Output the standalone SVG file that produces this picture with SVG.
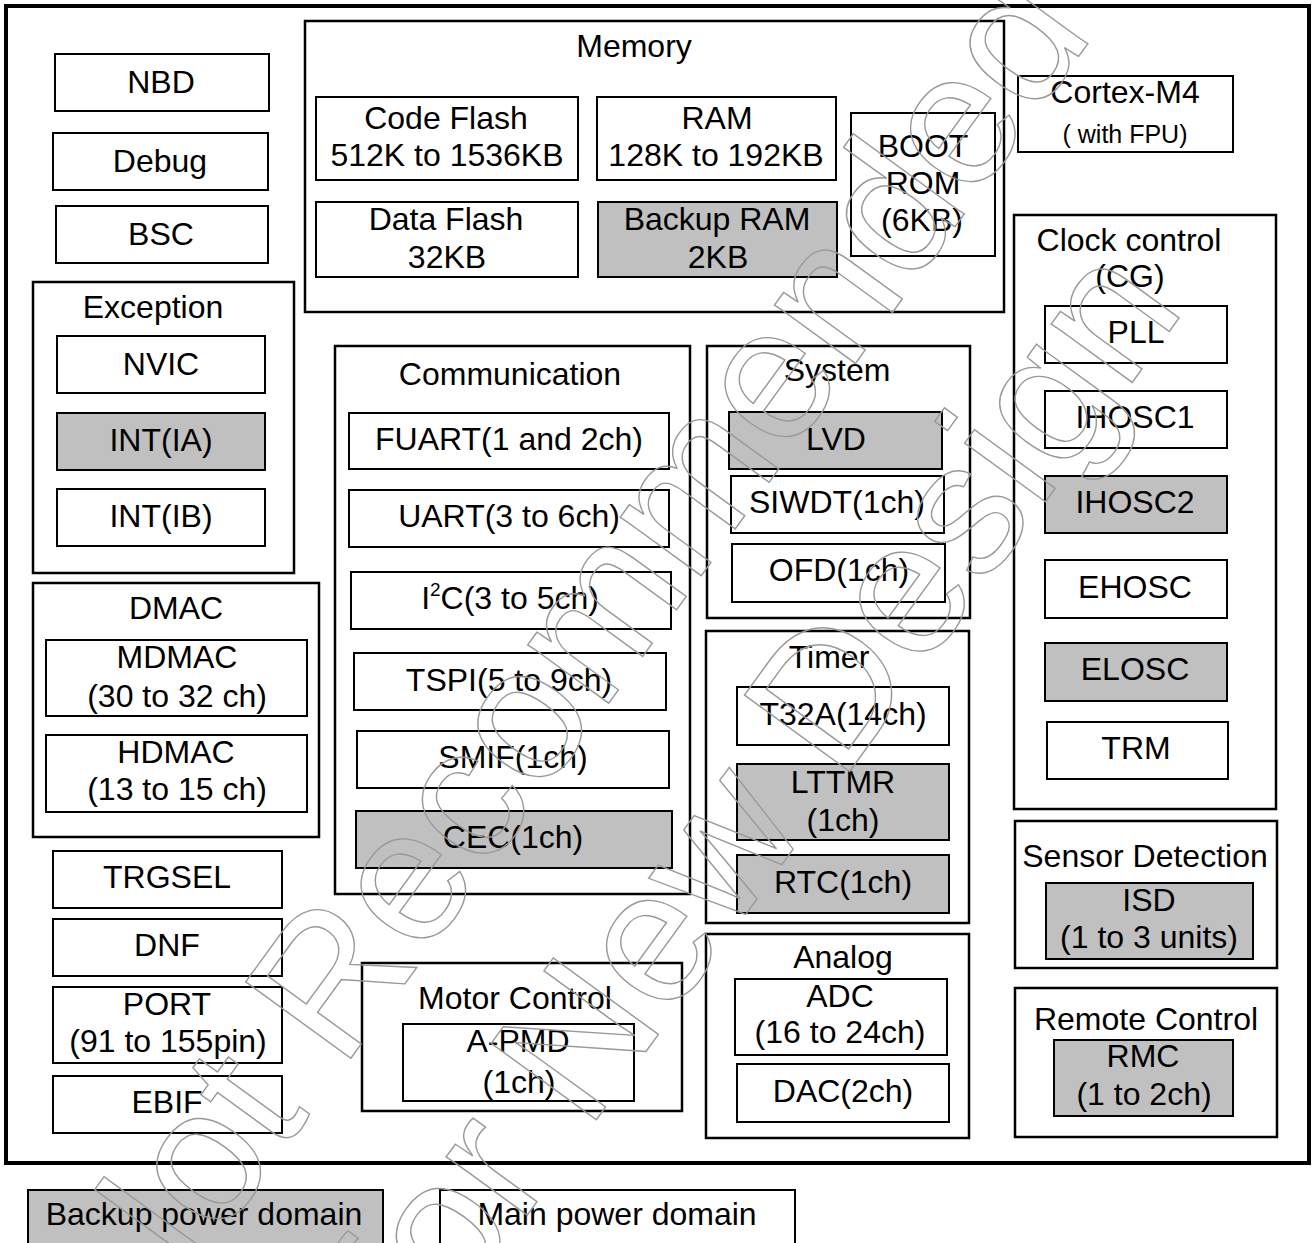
<svg xmlns="http://www.w3.org/2000/svg" width="1315" height="1243" viewBox="0 0 1315 1243">
<style>
.n{fill:#fff;stroke:#000;stroke-width:2}
.s{fill:#c0c0c0;stroke:#000;stroke-width:2}
.grp{fill:none;stroke:#000;stroke-width:2.5}
.outer{fill:none;stroke:#000;stroke-width:4}
text{font-family:"Liberation Sans",Arial,sans-serif;font-size:32px;text-anchor:middle;fill:#000}
.sm{font-size:25px}
.wm{font-family:"Liberation Sans",Arial,sans-serif;font-size:189px;text-anchor:middle;fill:none;stroke:#999;stroke-width:1.4}
</style>
<rect width="1315" height="1243" fill="#fff"/>
<rect class="outer" x="6" y="6" width="1303" height="1157"/>

<g id="NBD"><rect class="n" x="55" y="54" width="214" height="57"/><text x="161" y="93">NBD</text></g>
<g id="Debug"><rect class="n" x="53" y="133" width="215" height="57"/><text x="160" y="172">Debug</text></g>
<g id="BSC"><rect class="n" x="56" y="206" width="212" height="57"/><text x="161" y="245">BSC</text></g>

<g id="Exception"><rect class="grp" x="33" y="282" width="261" height="291"/><text x="153" y="318">Exception</text>
<g id="NVIC"><rect class="n" x="57" y="336" width="208" height="57"/><text x="161" y="375">NVIC</text></g>
<g id="INT_IA"><rect class="s" x="57" y="413" width="208" height="57"/><text x="161" y="451">INT(IA)</text></g>
<g id="INT_IB"><rect class="n" x="57" y="489" width="208" height="57"/><text x="161" y="527">INT(IB)</text></g>
</g>

<g id="DMAC"><rect class="grp" x="33" y="583" width="286" height="254"/><text x="176" y="619">DMAC</text>
<g id="MDMAC"><rect class="n" x="46" y="640" width="261" height="76"/><text x="177" y="668">MDMAC</text><text x="177" y="707">(30 to 32 ch)</text></g>
<g id="HDMAC"><rect class="n" x="46" y="735" width="261" height="77"/><text x="176" y="763">HDMAC</text><text x="177" y="800">(13 to 15 ch)</text></g>
</g>

<g id="TRGSEL"><rect class="n" x="53" y="851" width="229" height="57"/><text x="167" y="888">TRGSEL</text></g>
<g id="DNF"><rect class="n" x="53" y="919" width="229" height="57"/><text x="167" y="956">DNF</text></g>
<g id="PORT"><rect class="n" x="53" y="987" width="229" height="76"/><text x="167" y="1015">PORT</text><text x="168" y="1052">(91 to 155pin)</text></g>
<g id="EBIF"><rect class="n" x="53" y="1076" width="229" height="57"/><text x="167" y="1113">EBIF</text></g>

<g id="Memory"><rect class="grp" x="305" y="21" width="699" height="291"/><text x="634" y="57">Memory</text>
<g id="CodeFlash"><rect class="n" x="316" y="97" width="262" height="83"/><text x="446" y="129">Code Flash</text><text x="447" y="166">512K to 1536KB</text></g>
<g id="RAM"><rect class="n" x="597" y="97" width="239" height="83"/><text x="717" y="129">RAM</text><text x="716" y="166">128K to 192KB</text></g>
<g id="DataFlash"><rect class="n" x="316" y="202" width="262" height="75"/><text x="446" y="230">Data Flash</text><text x="447" y="268">32KB</text></g>
<g id="BackupRAM"><rect class="s" x="598" y="202" width="239" height="75"/><text x="717" y="230">Backup RAM</text><text x="718" y="268">2KB</text></g>
<g id="BootROM"><rect class="n" x="851" y="113" width="144" height="143"/><text x="923" y="157">BOOT</text><text x="923" y="194">ROM</text><text x="922" y="231">(6KB)</text></g>
</g>

<g id="Cortex"><rect class="n" x="1018" y="76" width="215" height="76"/><text x="1125" y="103">Cortex-M4</text><text class="sm" x="1125" y="143">( with FPU)</text></g>

<g id="ClockControl"><rect class="grp" x="1014" y="215" width="262" height="594"/><text x="1129" y="251">Clock control</text><text x="1130" y="287">(CG)</text>
<g id="PLL"><rect class="n" x="1045" y="306" width="182" height="57"/><text x="1136" y="343">PLL</text></g>
<g id="IHOSC1"><rect class="n" x="1045" y="391" width="182" height="57"/><text x="1135" y="428">IHOSC1</text></g>
<g id="IHOSC2"><rect class="s" x="1045" y="476" width="182" height="57"/><text x="1135" y="513">IHOSC2</text></g>
<g id="EHOSC"><rect class="n" x="1045" y="560" width="182" height="58"/><text x="1135" y="598">EHOSC</text></g>
<g id="ELOSC"><rect class="s" x="1045" y="643" width="182" height="58"/><text x="1135" y="680">ELOSC</text></g>
<g id="TRM"><rect class="n" x="1047" y="722" width="181" height="57"/><text x="1136" y="759">TRM</text></g>
</g>

<g id="SensorDetection"><rect class="grp" x="1015" y="821" width="262" height="147"/><text x="1145" y="867">Sensor Detection</text>
<g id="ISD"><rect class="s" x="1046" y="883" width="207" height="76"/><text x="1149" y="911">ISD</text><text x="1149" y="948">(1 to 3 units)</text></g>
</g>

<g id="RemoteControl"><rect class="grp" x="1015" y="988" width="262" height="149"/><text x="1146" y="1030">Remote Control</text>
<g id="RMC"><rect class="s" x="1054" y="1040" width="179" height="76"/><text x="1143" y="1067">RMC</text><text x="1144" y="1105">(1 to 2ch)</text></g>
</g>

<g id="Communication"><rect class="grp" x="335" y="346" width="355" height="548"/><text x="510" y="385">Communication</text>
<g id="FUART"><rect class="n" x="349" y="413" width="320" height="56"/><text x="509" y="450">FUART(1 and 2ch)</text></g>
<g id="UART"><rect class="n" x="349" y="490" width="320" height="57"/><text x="509" y="527">UART(3 to 6ch)</text></g>
<g id="I2C"><rect class="n" x="351" y="572" width="320" height="57"/><text x="510" y="609">I<tspan font-size="19" dy="-13">2</tspan><tspan dy="13">C(3 to 5ch)</tspan></text></g>
<g id="TSPI"><rect class="n" x="354" y="653" width="312" height="57"/><text x="509" y="691">TSPI(5 to 9ch)</text></g>
<g id="SMIF"><rect class="n" x="357" y="731" width="312" height="57"/><text x="513" y="768">SMIF(1ch)</text></g>
<g id="CEC"><rect class="s" x="356" y="811" width="316" height="57"/><text x="513" y="848">CEC(1ch)</text></g>
</g>

<g id="System"><rect class="grp" x="707" y="346" width="263" height="272"/><text x="837" y="381">System</text>
<g id="LVD"><rect class="s" x="729" y="412" width="213" height="57"/><text x="836" y="450">LVD</text></g>
<g id="SIWDT"><rect class="n" x="731" y="476" width="213" height="57"/><text x="837" y="513">SIWDT(1ch)</text></g>
<g id="OFD"><rect class="n" x="732" y="544" width="213" height="58"/><text x="839" y="581">OFD(1ch)</text></g>
</g>

<g id="Timer"><rect class="grp" x="706" y="631" width="263" height="292"/><text x="829" y="668">Timer</text>
<g id="T32A"><rect class="n" x="737" y="687" width="212" height="58"/><text x="843" y="725">T32A(14ch)</text></g>
<g id="LTTMR"><rect class="s" x="737" y="764" width="212" height="76"/><text x="843" y="793">LTTMR</text><text x="843" y="831">(1ch)</text></g>
<g id="RTC"><rect class="s" x="737" y="855" width="212" height="58"/><text x="843" y="893">RTC(1ch)</text></g>
</g>

<g id="Analog"><rect class="grp" x="706" y="934" width="263" height="204"/><text x="843" y="968">Analog</text>
<g id="ADC"><rect class="n" x="735" y="979" width="212" height="76"/><text x="840" y="1007">ADC</text><text x="840" y="1043">(16 to 24ch)</text></g>
<g id="DAC"><rect class="n" x="737" y="1064" width="212" height="58"/><text x="843" y="1102">DAC(2ch)</text></g>
</g>

<g id="MotorControl"><rect class="grp" x="362" y="963" width="320" height="148"/><text x="515" y="1009">Motor Control</text>
<g id="APMD"><rect class="n" x="403" y="1024" width="231" height="77"/><text x="518" y="1052">A-PMD</text><text x="519" y="1093">(1ch)</text></g>
</g>

<g id="LegendBackup"><rect class="s" x="28" y="1190" width="355" height="62"/><text x="204" y="1225">Backup power domain</text></g>
<g id="LegendMain"><rect class="n" x="440" y="1190" width="355" height="62"/><text x="617" y="1225">Main power domain</text></g>

<g id="connectors"></g>

<g id="watermark" transform="translate(138,1351) rotate(-54)">
<text class="wm" x="814" y="0">Not Recommended</text>
<text class="wm" x="814" y="235">for New Design</text>
</g>
</svg>
